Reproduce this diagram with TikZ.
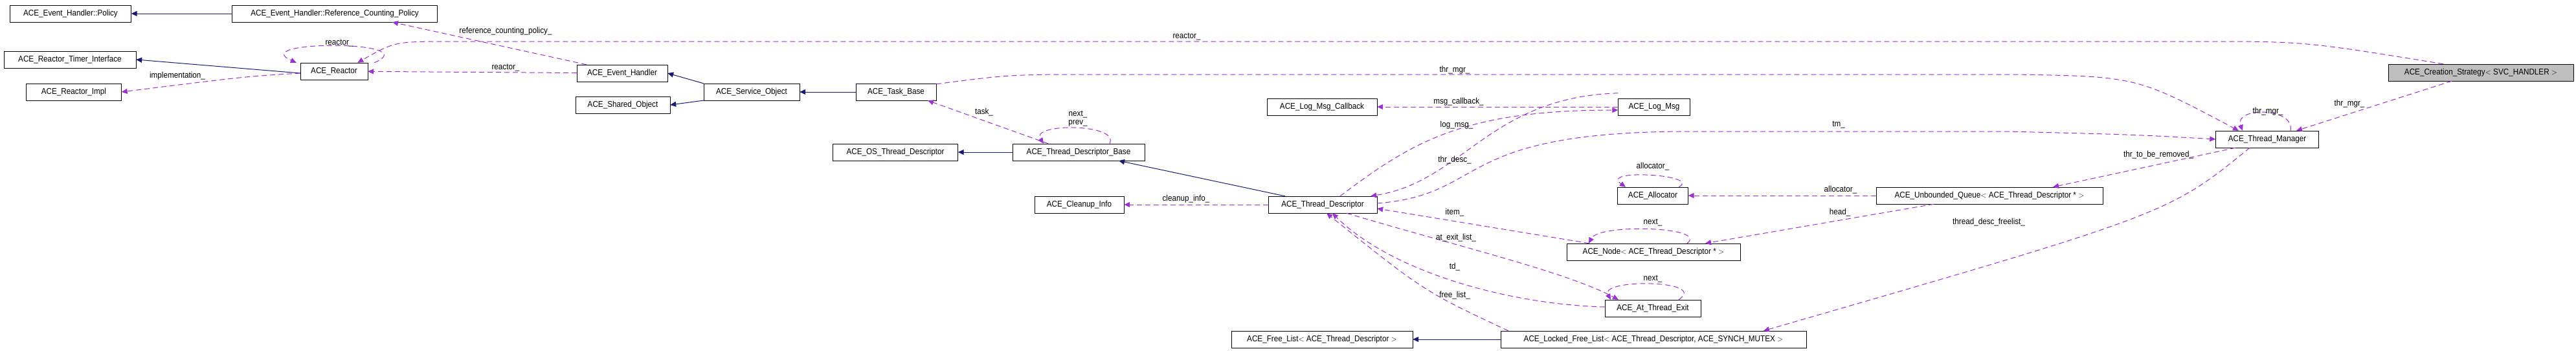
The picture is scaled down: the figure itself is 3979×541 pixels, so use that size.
\documentclass[tikz,border=0pt]{standalone}
\usepackage{fontspec}
\setmainfont[FakeStretch=0.9]{Liberation Sans}
\usetikzlibrary{arrows.meta}
\definecolor{inhcol}{HTML}{191970}
\definecolor{usecol}{HTML}{9A32CD}
\tikzset{
  cls/.style={draw,minimum height=26pt,inner sep=2pt,font=\fontsize{13}{13}\selectfont},
  lbl/.style={inner sep=1pt,font=\fontsize{13}{13}\selectfont},
  inh/.style={draw=inhcol,line width=1pt,-{Triangle[length=9pt,width=8pt]}},
  use/.style={draw=usecol,dash pattern=on 8pt off 5pt,line width=1pt,-{Triangle[length=9pt,width=8pt]}}
}
\begin{document}
\begin{tikzpicture}[x=1pt,y=-1pt]
      \useasboundingbox (0,0) rectangle (3979,541);

      % classes
      \node[cls,minimum width=187pt] (pol) at (109,21)  {ACE\_Event\_Handler::Policy};
      \node[cls,minimum width=317pt] (rcp) at (517,21)  {ACE\_Event\_Handler::Reference\_Counting\_Policy};
      \node[cls,minimum width=204pt] (rti) at (108,92)  {ACE\_Reactor\_Timer\_Interface};
      \node[cls,minimum width=104pt] (rea) at (516,110) {ACE\_Reactor};
      \node[cls,minimum width=147pt] (rim) at (114,142) {ACE\_Reactor\_Impl};
      \node[cls,minimum width=140pt] (evh) at (961,113) {ACE\_Event\_Handler};
      \node[cls,minimum width=148pt] (svo) at (1161,142) {ACE\_Service\_Object};
      \node[cls,minimum width=146pt] (sho) at (962,162) {ACE\_Shared\_Object};
      \node[cls,minimum width=124pt] (tsb) at (1384,142) {ACE\_Task\_Base};
      \node[cls,minimum width=170pt] (lmc) at (2042,165) {ACE\_Log\_Msg\_Callback};
      \node[cls,minimum width=111pt] (lgm) at (2555,165) {ACE\_Log\_Msg};
      \node[cls,minimum width=286pt,fill=black!25] (crs) at (3832,112) {ACE\_Creation\_Strategy$<$ SVC\_HANDLER $>$};
      \node[cls,minimum width=159pt] (thm) at (3502,215) {ACE\_Thread\_Manager};
      \node[cls,minimum width=193pt] (otd) at (1383,235) {ACE\_OS\_Thread\_Descriptor};
      \node[cls,minimum width=204pt] (tdb) at (1666,235) {ACE\_Thread\_Descriptor\_Base};
      \node[cls,minimum width=138pt] (cli) at (1667,316) {ACE\_Cleanup\_Info};
      \node[cls,minimum width=168pt] (thd) at (2043,316) {ACE\_Thread\_Descriptor};
      \node[cls,minimum width=109pt] (alc) at (2553,302) {ACE\_Allocator};
      \node[cls,minimum width=350pt] (ubq) at (3073,302) {ACE\_Unbounded\_Queue$<$ ACE\_Thread\_Descriptor * $>$};
      \node[cls,minimum width=268pt] (nod) at (2554,389) {ACE\_Node$<$ ACE\_Thread\_Descriptor * $>$};
      \node[cls,minimum width=148pt] (ate) at (2553,476) {ACE\_At\_Thread\_Exit};
      \node[cls,minimum width=280pt] (frl) at (2042,524) {ACE\_Free\_List$<$ ACE\_Thread\_Descriptor $>$};
      \node[cls,minimum width=472pt] (lfl) at (2554,524) {ACE\_Locked\_Free\_List$<$ ACE\_Thread\_Descriptor, ACE\_SYNCH\_MUTEX $>$};

      % inheritance
      \draw[inh] (rcp) -- (pol);
      \draw[inh] ([yshift=-3pt]rea.west) -- (rti.east);
      \draw[inh] (svo.170) -- (evh.east);
      \draw[inh] (svo.190) -- (sho.east);
      \draw[inh] (tsb) -- (svo);
      \draw[inh] (tdb) -- (otd);
      \draw[inh] ([xshift=26pt]thd.north west) -- ([xshift=62pt]tdb.south);
      \draw[inh] (lfl) -- (frl);

      % members
      \draw[use] ([xshift=15pt]evh.north west) -- ([xshift=89pt]rcp.south);
      \draw[use] (evh) -- (rea);
      \draw[use] ([xshift=-58pt]crs.north) .. controls (3560,64) .. (3400,64) -- (700,64) .. controls (610,64) .. (rea.20);
      \draw[use] ([xshift=10pt]rea.north east) .. controls (660,62) and (380,62) .. ([xshift=-6pt]rea.north west);
      \draw[use] ([yshift=-3pt]rea.west) .. controls (380,118) .. (rim.east);
      \draw[use] ([yshift=-1pt]tsb.north east) .. controls (1560,115) .. (1700,115) -- (3111,115) .. controls (3300,118) .. ([xshift=-44pt]thm.north);
      \draw[use] ([xshift=36pt]thm.north) .. controls (3545,165) and (3450,165) .. ([xshift=-38pt]thm.north);
      \draw[use] ([xshift=-45pt]crs.south) -- ([xshift=45pt]thm.north);
      \draw[use] ([xshift=-47pt]tdb.north) -- ([xshift=49pt]tsb.south);
      \draw[use] ([xshift=48pt]tdb.north) .. controls (1730,190) and (1590,190) .. ([xshift=-54pt]tdb.north);
      \draw[use] (thd) -- (cli);
      \draw[use] (lgm) -- (lmc);
      \draw[use] ([xshift=27pt]thd.north) .. controls (2180,220) and (2260,170) .. ([yshift=-5pt]lgm.west);
      \draw[use] ([yshift=8pt]lgm.north west) .. controls (2300,150) and (2260,280) .. ([xshift=-10pt]thd.north east);
      \draw[use] ([yshift=2pt]thd.east) .. controls (2300,300) and (2240,205) .. (2600,203) -- (3100,203) .. controls (3300,208) .. (thm.west);
      \draw[use] ([xshift=40pt]alc.north) .. controls (2630,270) and (2470,260) .. ([xshift=-42pt]alc.north);
      \draw[use] (ubq) -- (alc);
      \draw[use] ([xshift=-49pt]thm.south) -- ([xshift=98pt]ubq.north);
      \draw[use] ([xshift=-86pt]ubq.south) -- ([xshift=80pt]nod.north);
      \draw[use] ([xshift=35pt]nod.north west) -- ([yshift=-6pt]thd.east);
      \draw[use] ([xshift=52pt]nod.north) .. controls (2640,350) and (2470,345) .. ([xshift=-100pt]nod.north);
      \draw[use] ([xshift=37pt]thd.south) .. controls (2250,380) and (2420,420) .. ([xshift=-53pt]ate.north);
      \draw[use] ([yshift=2pt]ate.west) .. controls (2330,470) and (2150,420) .. ([xshift=15pt]thd.south);
      \draw[use] ([xshift=40pt]ate.north) .. controls (2640,432) and (2470,430) .. ([xshift=-65pt]ate.north);
      \draw[use] ([xshift=12pt]lfl.north west) .. controls (2200,450) .. ([xshift=6pt]thd.south);
      \draw[use] ([xshift=-27pt]thm.south) .. controls (3350,330) .. ([xshift=170pt]lfl.north);

      % member labels
      \node[lbl] (l1)  at (781,48)   {reference\_counting\_policy\_};
      \node[lbl] (l2)  at (781,105)  {reactor\_};
      \node[lbl] (l3)  at (524,67)   {reactor\_};
      \node[lbl] (l4)  at (274,117)  {implementation\_};
      \node[lbl] (l5)  at (1833,57)  {reactor\_};
      \node[lbl] (l6)  at (2247,108) {thr\_mgr\_};
      \node[lbl] (l7)  at (3503,172) {thr\_mgr\_};
      \node[lbl] (l8)  at (3629,160) {thr\_mgr\_};
      \node[lbl] (l9)  at (1520,173) {task\_};
      \node[lbl] (l10) at (1665,177) {next\_};
      \node[lbl] (l11) at (1665,190) {prev\_};
      \node[lbl] (l12) at (1832,307) {cleanup\_info\_};
      \node[lbl] (l13) at (2253,157) {msg\_callback\_};
      \node[lbl] (l14) at (2250,193) {log\_msg\_};
      \node[lbl] (l15) at (2247,247) {thr\_desc\_};
      \node[lbl] (l16) at (2840,193) {tm\_};
      \node[lbl] (l17) at (2553,257) {allocator\_};
      \node[lbl] (l18) at (2843,293) {allocator\_};
      \node[lbl] (l19) at (3334,239) {thr\_to\_be\_removed\_};
      \node[lbl] (l20) at (2247,328) {item\_};
      \node[lbl] (l21) at (2842,328) {head\_};
      \node[lbl] (l22) at (2553,344) {next\_};
      \node[lbl] (l23) at (3072,343) {thread\_desc\_freelist\_};
      \node[lbl] (l24) at (2249,367) {at\_exit\_list\_};
      \node[lbl] (l25) at (2247,412) {td\_};
      \node[lbl] (l26) at (2553,431) {next\_};
      \node[lbl] (l27) at (2247,456) {free\_list\_};

    \end{tikzpicture}
\end{document}
